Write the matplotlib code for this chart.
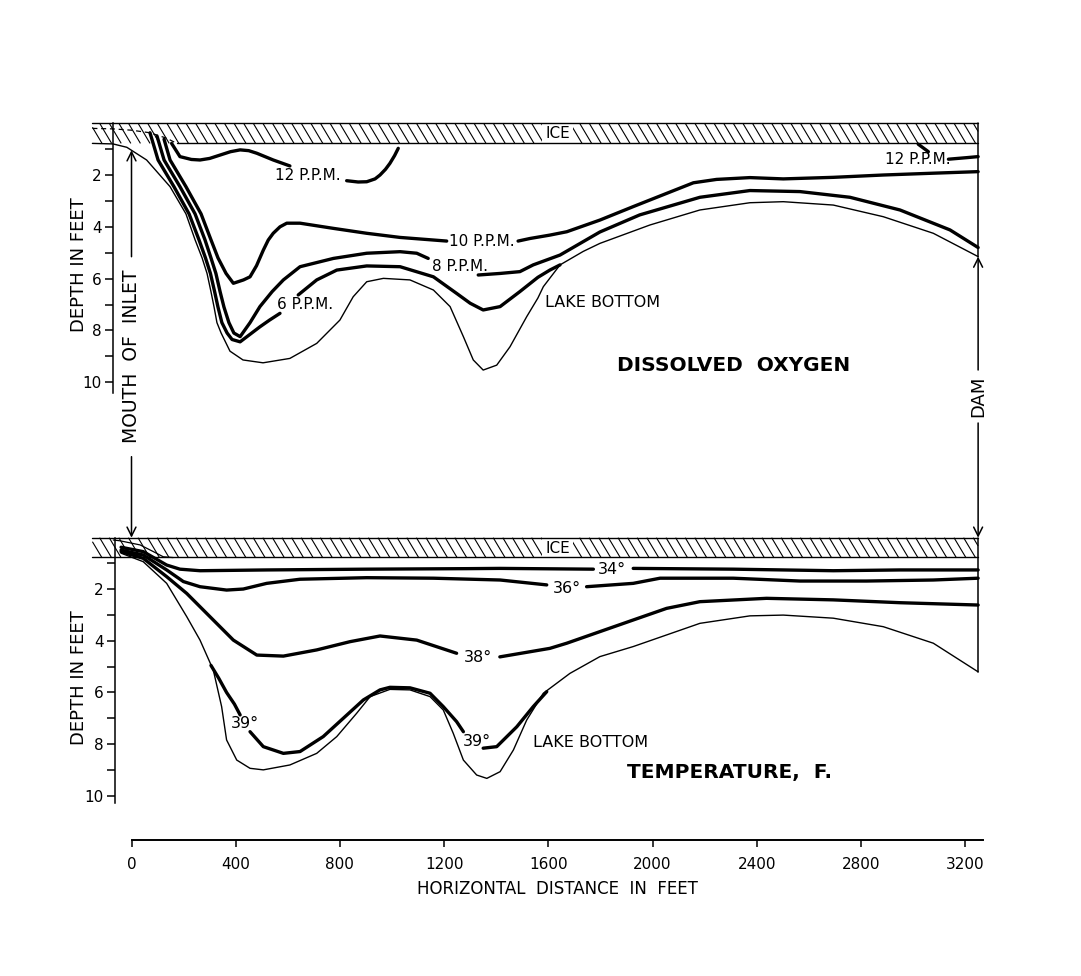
import numpy as np
import matplotlib
matplotlib.use("Agg")
import matplotlib.pyplot as plt
from matplotlib.collections import LineCollection
import matplotlib.transforms as mtrans

nan = np.nan

# ---------------- DATA (x = horizontal distance in feet, d = depth in feet) ----------------
X_TICKS = [0, 400, 800, 1200, 1600, 2000, 2400, 2800, 3200]
Y_MAJOR = [2, 4, 6, 8, 10]
Y_MINOR = [1, 3, 5, 7, 9]
MOUTH_X = 0
DAM_X = 3250
ICE_LEFT = -150
ICE_DEPTH = 0.78

# Dissolved oxygen panel
do_bottom_x = [-150, -71, -18, 58, 148, 209, 244, 271, 290, 305, 317, 328, 344, 378, 428, 505, 608,
               711, 800, 851, 903, 967, 1069, 1159, 1223, 1274, 1312, 1350, 1402, 1453, 1517,
               1560, 1581, 1645, 1734, 1798, 1990, 2182, 2374, 2502, 2694, 2886, 3078, 3250]
do_bottom_d = [0.78, 0.80, 0.93, 1.42, 2.45, 3.5, 4.5, 5.2, 5.8, 6.5, 7.1, 7.7, 8.1, 8.8, 9.14, 9.25, 9.08,
               8.5, 7.6, 6.7, 6.12, 5.99, 6.05, 6.44, 7.08, 8.24, 9.14, 9.53, 9.34, 8.63, 7.47,
               6.75, 6.31, 5.47, 4.95, 4.64, 3.93, 3.35, 3.07, 3.03, 3.16, 3.61, 4.25, 5.15]

do_ice_edge_x = [-150, -71, 0, 71, 135, 174]
do_ice_edge_d = [0.20, 0.22, 0.27, 0.37, 0.58, 0.78]

ppm12_a_x = [154, 186, 230, 263, 300, 340, 380, 417, 450, 481, 544, 608]
ppm12_a_d = [0.78, 1.29, 1.40, 1.42, 1.36, 1.23, 1.10, 1.03, 1.06, 1.16, 1.42, 1.65]
ppm12_b_x = [826, 870, 903, 935, 954, 975, 992, 1010, 1024]
ppm12_b_d = [2.22, 2.27, 2.26, 2.15, 2.0, 1.78, 1.55, 1.25, 0.97]
ppm12_c_x = [3020, 3059]
ppm12_c_d = [0.81, 1.10]
ppm12_d_x = [3136, 3206, 3250]
ppm12_d_d = [1.39, 1.33, 1.29]

ppm10_x = [125, 148, 209, 267, 305, 332, 363, 391, 430, 455, 480, 506, 525, 544, 570,
           596, 647, 775, 903, 1031, 1159, 1210, nan, 1484, 1530, 1606, 1671, 1798, 1926, 2054,
           2157, 2246, 2374, 2502, 2694, 2886, 3078, 3250]
ppm10_d = [0.62, 1.42, 2.45, 3.5, 4.5, 5.2, 5.8, 6.18, 6.05, 5.93, 5.5, 4.9, 4.51, 4.25, 4.0,
           3.86, 3.86, 4.06, 4.25, 4.41, 4.51, 4.55, nan, 4.55, 4.45, 4.32, 4.19, 3.74, 3.22, 2.71,
           2.3, 2.17, 2.1, 2.15, 2.09, 2.0, 1.93, 1.87]

ppm8_x = [98, 125, 186, 244, 282, 305, 324, 340, 355, 374, 393, 417, 455, 493, 540, 583, 647,
          775, 903, 1031, 1095, 1139, nan, 1331, 1415, 1491, 1542, 1645, 1798, 1951, 2182, 2374,
          2566, 2758, 2950, 3142, 3250]
ppm8_d = [0.5, 1.42, 2.45, 3.5, 4.5, 5.2, 5.8, 6.5, 7.1, 7.7, 8.1, 8.24, 7.7, 7.08, 6.5, 6.05, 5.54,
          5.22, 5.02, 4.96, 5.02, 5.22, nan, 5.86, 5.8, 5.73, 5.47, 5.09, 4.2, 3.54, 2.86, 2.6,
          2.64, 2.86, 3.35, 4.12, 4.8]

ppm6_x = [71, 102, 163, 221, 259, 284, 303, 319, 332, 347, 367, 386, 417, 455, 493, 530, 570, nan,
          640, 711, 788, 903, 1031, 1159, 1248, 1300, 1350, 1415, 1491, 1560, 1606, 1645]
ppm6_d = [0.37, 1.42, 2.45, 3.5, 4.5, 5.2, 5.8, 6.5, 7.1, 7.7, 8.1, 8.35, 8.44, 8.15, 7.86, 7.6, 7.34, nan,
          6.63, 6.05, 5.67, 5.51, 5.54, 5.93, 6.57, 6.95, 7.21, 7.08, 6.5, 5.95, 5.67, 5.47]

do_labels = ["12 P.P.M.", "10 P.P.M.", "8 P.P.M.", "6 P.P.M.", "12 P.P.M."]
do_label_x = [675, 1344, 1261, 666, 3017]
do_label_d = [2.0, 4.57, 5.52, 6.98, 1.42]

# Temperature panel
t_bottom_x = [-40, 45, 135, 212, 263, 314, 346, 365, 404, 455, 506, 608, 711, 788, 864, 916, 992,
              1069, 1146, 1197, 1235, 1274, 1325, 1364, 1415, 1466, 1517, 1581, 1683, 1798, 1926,
              2182, 2374, 2502, 2694, 2886, 3078, 3250]
t_bottom_d = [0.6, 0.93, 1.77, 3.06, 3.97, 5.13, 6.55, 7.84, 8.62, 8.94, 9.0, 8.81, 8.36, 7.71, 6.81, 6.16, 5.88,
              5.9, 6.16, 6.68, 7.58, 8.62, 9.2, 9.33, 9.07, 8.23, 7.07, 6.03, 5.26, 4.61, 4.22,
              3.32, 3.03, 3.0, 3.12, 3.45, 4.09, 5.2]

t_ice_edge_x = [-70, -44, 33, 84, 122, 160]
t_ice_edge_d = [0.09, 0.12, 0.28, 0.54, 0.74, 0.77]

deg34_x = [-40, 45, 135, 186, 263, 519, 903, 1287, 1414, 1773, nan, 1926, 2310, 2694, 2950, 3250]
deg34_d = [0.37, 0.54, 1.06, 1.22, 1.28, 1.25, 1.22, 1.2, 1.19, 1.22, nan, 1.19, 1.22, 1.28, 1.25, 1.25]

deg36_x = [-40, 45, 135, 199, 263, 365, 429, 519, 647, 903, 1159, 1415, 1594, nan, 1747, 1926, 2029,
           2310, 2566, 2822, 3078, 3250]
deg36_d = [0.48, 0.67, 1.25, 1.7, 1.9, 2.03, 1.99, 1.77, 1.61, 1.55, 1.57, 1.64, 1.83, nan, 1.9, 1.77, 1.57,
           1.57, 1.68, 1.68, 1.64, 1.57]

deg38_x = [-40, 45, 135, 212, 301, 391, 481, 583, 711, 839, 954, 1095, 1248, nan, 1414, 1606, 1671,
           1926, 2054, 2182, 2438, 2694, 2950, 3250]
deg38_d = [0.54, 0.8, 1.51, 2.16, 3.06, 3.97, 4.55, 4.59, 4.35, 4.03, 3.81, 3.97, 4.48, nan, 4.62, 4.29, 4.09,
           3.19, 2.74, 2.48, 2.35, 2.41, 2.52, 2.61]

deg39_x = [305, 335, 365, 395, 417, nan, 455, 506, 583, 647, 736, 813, 890, 954, 992, 1069, 1146,
           1197, 1248, 1274, nan, 1350, 1402, 1479, 1542, 1594]
deg39_d = [4.95, 5.45, 6.0, 6.45, 6.87, nan, 7.52, 8.1, 8.36, 8.29, 7.71, 7.0, 6.29, 5.9, 5.8, 5.82, 6.03,
           6.55, 7.13, 7.52, nan, 8.16, 8.1, 7.33, 6.55, 5.97]

t_labels = ["34°", "36°", "38°", "39°", "39°"]
t_label_x = [1843, 1671, 1331, 436, 1325]
t_label_d = [1.25, 1.95, 4.64, 7.19, 7.91]

# ---------------- FIGURE ----------------
plt.rcParams['font.family'] = ['DejaVu Sans']

W, H = 1081, 976
S = 0.2605        # pixels per foot
X0 = 131.5        # pixel of x = 0
fig = plt.figure(figsize=(W / 100, H / 100), dpi=100)
fig.patch.set_facecolor('white')


def fy(py):
    return 1 - py / H


def make_panel(left_px, top_px, bottom_px, right_px, dmax):
    ax = fig.add_axes([left_px / W, fy(bottom_px), (right_px - left_px) / W, (bottom_px - top_px) / H])
    ax.set_xlim((left_px - X0) / S, (right_px - X0) / S)
    ax.set_ylim(dmax, 0)
    for s in ['top', 'right', 'bottom']:
        ax.spines[s].set_visible(False)
    ax.spines['left'].set_linewidth(1.1)
    ax.set_xticks([])
    ax.set_yticks(Y_MAJOR)
    ax.set_yticklabels([str(v) for v in Y_MAJOR])
    ax.set_yticks(Y_MINOR, minor=True)
    ax.tick_params(axis='y', which='both', direction='out', length=6, width=1.1, pad=2,
                   labelsize=11)
    ax.patch.set_visible(False)
    return ax


ax1 = make_panel(113, 123.2, 392.6, 984.6, 10.4)
ax2 = make_panel(115, 537.7, 803.4, 984.6, 10.3)

THICK = 2.4
THIN = 1.0


def draw(ax, x, d, lw, **kw):
    ax.plot(x, d, color='black', lw=lw, solid_capstyle='round', solid_joinstyle='round',
            clip_on=False, **kw)


def ice(ax):
    # hand-drawn style diagonal hatching of the ice sheet
    sp = 9.6 / S          # spacing between hatch strokes (ft)
    dx = 12.0 / S         # horizontal run of one stroke across the ice thickness (ft)
    segs = []
    for x0 in np.arange(ICE_LEFT - dx, DAM_X, sp):
        xa, ya = x0, 0.0
        xb, yb = x0 + dx, ICE_DEPTH
        if xa < ICE_LEFT:
            ya = (ICE_LEFT - x0) / dx * ICE_DEPTH
            xa = ICE_LEFT
        if xb > DAM_X:
            yb = (DAM_X - x0) / dx * ICE_DEPTH
            xb = DAM_X
        segs.append([(xa, ya), (xb, yb)])
    lc = LineCollection(segs, colors='black', linewidths=0.8, clip_on=False, zorder=1)
    ax.add_collection(lc)
    draw(ax, [ICE_LEFT, DAM_X], [0, 0], THIN, zorder=4)
    ax.text(1635, 0.40, 'ICE', ha='center', va='center', fontsize=11, zorder=3,
            bbox=dict(facecolor='white', edgecolor='none', pad=2.5))


# ---- top panel ----
ice(ax1)
draw(ax1, [do_ice_edge_x[-1], DAM_X], [ICE_DEPTH, ICE_DEPTH], THIN, zorder=4)
ax1.plot(do_ice_edge_x, do_ice_edge_d, color='black', lw=0.9, ls=(0, (4, 3)), clip_on=False, zorder=4)
draw(ax1, do_bottom_x, do_bottom_d, THIN)
for xs, ds in [(ppm12_a_x, ppm12_a_d), (ppm12_b_x, ppm12_b_d), (ppm12_c_x, ppm12_c_d),
               (ppm12_d_x, ppm12_d_d), (ppm10_x, ppm10_d), (ppm8_x, ppm8_d), (ppm6_x, ppm6_d)]:
    draw(ax1, xs, ds, THICK)
for t, x, d in zip(do_labels, do_label_x, do_label_d):
    ax1.text(x, d, t, ha='center', va='center', fontsize=11)
draw(ax1, [DAM_X, DAM_X], [0, do_bottom_d[-1]], 1.1)
ax1.text(1587, 6.94, 'LAKE BOTTOM', ha='left', va='center', fontsize=11.5)
ax1.text(1864, 9.34, 'DISSOLVED  OXYGEN', ha='left', va='center', fontsize=14.5, weight='bold')

# ---- bottom panel ----
ice(ax2)
draw(ax2, [ICE_LEFT, DAM_X], [ICE_DEPTH - 0.02, ICE_DEPTH - 0.02], THIN, zorder=4)
draw(ax2, t_ice_edge_x, t_ice_edge_d, 0.9)
draw(ax2, t_bottom_x, t_bottom_d, THIN)
for xs, ds in [(deg34_x, deg34_d), (deg36_x, deg36_d), (deg38_x, deg38_d), (deg39_x, deg39_d)]:
    draw(ax2, xs, ds, THICK)
for t, x, d in zip(t_labels, t_label_x, t_label_d):
    ax2.text(x, d, t, ha='center', va='center', fontsize=11.5)
draw(ax2, [DAM_X, DAM_X], [0, t_bottom_d[-1]], 1.1)
ax2.text(1542, 7.92, 'LAKE BOTTOM', ha='left', va='center', fontsize=11.5)
ax2.text(1902, 9.12, 'TEMPERATURE,  F.', ha='left', va='center', fontsize=14.5, weight='bold')

# ---- y labels ----
fig.text(78.5 / W, fy(265), 'DEPTH IN FEET', rotation=90, ha='center', va='center', fontsize=13)
fig.text(78.5 / W, fy(678), 'DEPTH IN FEET', rotation=90, ha='center', va='center', fontsize=13)

# ---- mouth of inlet / dam arrows ----
b1 = mtrans.blended_transform_factory(ax1.transData, fig.transFigure)
b2 = mtrans.blended_transform_factory(ax2.transData, fig.transFigure)
ap = dict(arrowstyle='->', lw=1.1, color='black', shrinkA=0, shrinkB=0, mutation_scale=16)

mouth_d = np.interp(MOUTH_X, do_bottom_x, do_bottom_d)
ax1.annotate('', xy=(MOUTH_X, mouth_d), xycoords='data', xytext=(MOUTH_X, fy(256.7)),
             textcoords=b1, arrowprops=ap, annotation_clip=False)
ax2.annotate('', xy=(MOUTH_X, 0), xycoords='data', xytext=(MOUTH_X, fy(456.7)),
             textcoords=b2, arrowprops=ap, annotation_clip=False)
ax1.text(MOUTH_X, fy(356.7), 'MOUTH  OF  INLET', transform=b1, rotation=90, ha='center',
         va='center', fontsize=13.5)

ax1.annotate('', xy=(DAM_X, do_bottom_d[-1]), xycoords='data', xytext=(DAM_X, fy(370)),
             textcoords=b1, arrowprops=ap, annotation_clip=False)
ax2.annotate('', xy=(DAM_X, 0), xycoords='data', xytext=(DAM_X, fy(423)),
             textcoords=b2, arrowprops=ap, annotation_clip=False)
ax1.text(DAM_X, fy(396), 'DAM', transform=b1, rotation=90, ha='center', va='center', fontsize=13)

# ---- horizontal distance axis ----
axx = fig.add_axes([X0 / W, fy(840), 851.5 / W, 0.0001])
axx.set_xlim(0, 851.5 / S)
axx.set_xticks(X_TICKS)
axx.set_xticklabels([str(v) for v in X_TICKS])
axx.set_yticks([])
for s in ['top', 'right', 'left']:
    axx.spines[s].set_visible(False)
axx.spines['bottom'].set_linewidth(1.4)
axx.tick_params(axis='x', direction='out', length=5, width=1.1, pad=7, labelsize=11)
axx.patch.set_visible(False)
axx.set_xlabel('HORIZONTAL  DISTANCE  IN  FEET', fontsize=12, labelpad=6)

fig.savefig('out.png', dpi=100, facecolor='white')
